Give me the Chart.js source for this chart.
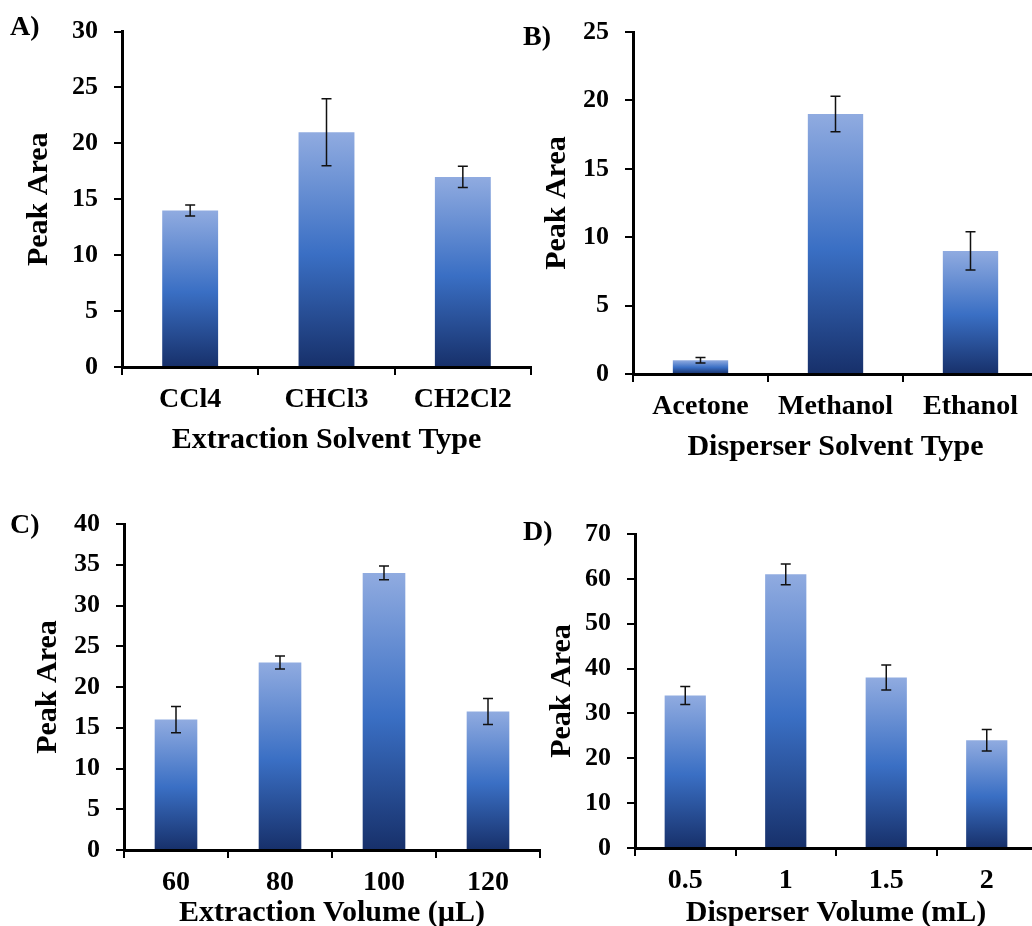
<!DOCTYPE html>
<html>
<head>
<meta charset="utf-8">
<script src="https://cdn.jsdelivr.net/npm/chart.js@4.4.1/dist/chart.umd.min.js"></script>
<style>
  html, body { margin: 0; padding: 0; background: #fff; overflow: hidden; }
  body { width: 1032px; height: 926px; position: relative; }
  .panel { position: absolute; }
  .tag { position: absolute; font: bold 28px 'Liberation Serif', 'Times New Roman', serif; line-height: 28px; color: #000; }
</style>
</head>
<body>
<div class="panel" style="left:0;top:0"><canvas id="chartA" width="545" height="470"></canvas></div>
<div class="panel" style="left:516px;top:0"><canvas id="chartB" width="530" height="470"></canvas></div>
<div class="panel" style="left:0;top:480px"><canvas id="chartC" width="545" height="460"></canvas></div>
<div class="panel" style="left:516px;top:480px"><canvas id="chartD" width="530" height="460"></canvas></div>
<div class="tag" style="left:10px;top:12px">A)</div>
<div class="tag" style="left:523px;top:22px">B)</div>
<div class="tag" style="left:10px;top:510px">C)</div>
<div class="tag" style="left:523px;top:517px">D)</div>
<script>
// panel A - extraction solvent
const solventsA = ['CCl4', 'CHCl3', 'CH2Cl2'];
const peakA = [14, 21, 17];
const errA = [0.5, 3, 0.95];

// panel B - disperser solvent
const solventsB = ['Acetone', 'Methanol', 'Ethanol'];
const peakB = [1, 19, 9];
const errB = [0.2, 1.3, 1.4];

// panel C - extraction volume (uL)
const volumesC = ['60', '80', '100', '120'];
const peakC = [16, 23, 34, 17];
const errC = [1.6, 0.8, 0.85, 1.6];

// panel D - disperser volume (mL)
const volumesD = ['0.5', '1', '1.5', '2'];
const peakD = [34, 61, 38, 24];
const errD = [2, 2.3, 2.8, 2.4];

const FONT = "'Liberation Serif', 'Times New Roman', serif";

// draws the +/- error bars on top of the bars
const errorBars = {
  id: 'errorBars',
  afterDatasetsDraw(chart, args, opts) {
    const ctx = chart.ctx;
    const y = chart.scales.y;
    const errs = opts.errors || [];
    chart.getDatasetMeta(0).data.forEach((bar, i) => {
      const v = chart.data.datasets[0].data[i];
      const e = errs[i];
      if (!e) return;
      const top = y.getPixelForValue(v + e);
      const bot = y.getPixelForValue(v - e);
      ctx.save();
      ctx.strokeStyle = '#111';
      ctx.lineWidth = 1.5;
      ctx.beginPath();
      ctx.moveTo(bar.x, top); ctx.lineTo(bar.x, bot);
      ctx.moveTo(bar.x - 5, top); ctx.lineTo(bar.x + 5, top);
      ctx.moveTo(bar.x - 5, bot); ctx.lineTo(bar.x + 5, bot);
      ctx.stroke();
      ctx.restore();
    });
  }
};

function barGradient(c) {
  const chart = c.chart;
  const y = chart.scales.y;
  if (!y || c.type !== 'data') return '#3a6fc4';
  const top = y.getPixelForValue(c.raw);
  const bot = y.getPixelForValue(0);
  if (!isFinite(top) || !isFinite(bot) || top === bot) return '#3a6fc4';
  const g = chart.ctx.createLinearGradient(0, top, 0, bot);
  g.addColorStop(0, '#90abe0');
  g.addColorStop(0.52, '#3a6fc4');
  g.addColorStop(1, '#17306a');
  return g;
}

function makePanel(id, labels, values, errors, cfg) {
  new Chart(document.getElementById(id), {
    type: 'bar',
    data: {
      labels: labels,
      datasets: [{
        data: values,
        backgroundColor: barGradient,
        borderWidth: 0,
        categoryPercentage: 1,
        barPercentage: 0.41
      }]
    },
    options: {
      responsive: false,
      animation: false,
      devicePixelRatio: 1,
      layout: { padding: { top: cfg.top, right: cfg.right, bottom: 0, left: 0 } },
      plugins: {
        legend: { display: false },
        tooltip: { enabled: false },
        errorBars: { errors: errors }
      },
      scales: {
        x: {
          afterFit: s => { s.height = cfg.xHeight; },
          border: { display: true, color: '#000', width: 3 },
          grid: { offset: true, drawOnChartArea: false, drawTicks: true, tickLength: 8, color: '#000', lineWidth: 2 },
          ticks: { color: '#000', padding: 8, font: { family: FONT, size: 28, weight: 'bold' } },
          title: {
            display: true, text: cfg.xTitle, color: '#000',
            padding: { top: 0, bottom: cfg.xTitlePad },
            font: { family: FONT, size: 30, weight: 'bold' }
          }
        },
        y: {
          min: 0, max: cfg.max,
          afterFit: s => { s.width = cfg.yWidth; },
          border: { display: true, color: '#000', width: 3 },
          grid: { drawOnChartArea: false, drawTicks: true, tickLength: 8, color: '#000', lineWidth: 2 },
          ticks: { stepSize: cfg.step, color: '#000', padding: 16, font: { family: FONT, size: 26, weight: 'bold' } },
          title: {
            display: true, text: 'Peak Area', color: '#000',
            padding: { top: cfg.yTitlePad, bottom: 0 },
            font: { family: FONT, size: 30, weight: 'bold' }
          }
        }
      }
    },
    plugins: [errorBars]
  });
}

makePanel('chartA', solventsA, peakA, errA,
  { top: 25, right: 14, xHeight: 103, yWidth: 122, max: 30, step: 5, xTitle: 'Extraction Solvent Type', xTitlePad: 12, yTitlePad: 21 });
makePanel('chartB', solventsB, peakB, errB,
  { top: 32, right: 8, xHeight: 96, yWidth: 117, max: 25, step: 5, xTitle: 'Disperser Solvent Type', xTitlePad: 5, yTitlePad: 23 });
makePanel('chartC', volumesC, peakC, errC,
  { top: 44, right: 5, xHeight: 90, yWidth: 124, max: 40, step: 5, xTitle: 'Extraction Volume (\u00b5L)', xTitlePad: 9, yTitlePad: 30 });
makePanel('chartD', volumesD, peakD, errD,
  { top: 54, right: 9, xHeight: 92, yWidth: 119, max: 70, step: 10, xTitle: 'Disperser Volume (mL)', xTitlePad: 9, yTitlePad: 28 });
</script>
</body>
</html>
